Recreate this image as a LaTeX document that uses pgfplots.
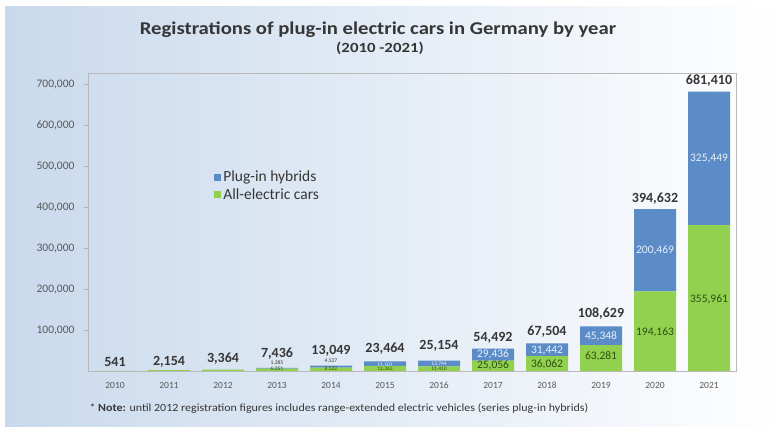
\documentclass[border=0pt]{standalone}
\usepackage{fontspec}
\setmainfont{Carlito}
\usepackage{pgfplots}
\usepackage{pgfplotstable}
\pgfplotsset{compat=1.18}
\definecolor{barblue}{HTML}{5B8CC8}
\definecolor{bargreen}{HTML}{92D050}
\definecolor{bgblue}{HTML}{C9D9EC}
\definecolor{txtgrey}{HTML}{363636}
\definecolor{tickgrey}{HTML}{595959}
\definecolor{dkgreen}{HTML}{2F5010}
\definecolor{lightlab}{HTML}{E8F0FA}

\pgfplotstableread{
x elec hyb
0 541 0
1 2154 0
2 3364 0
3 6051 1385
4 8522 4527
5 12363 11101
6 11410 13744
7 25056 29436
8 36062 31442
9 63281 45348
10 194163 200469
11 355961 325449
}\datatab

\pgfplotstableread{
x total dy lab
0 541 4 541
1 2154 3 2,154
2 3364 5 3,364
3 7436 8 7,436
4 13049 9 13,049
5 23464 7 23,464
6 25154 9 25,154
7 54492 5 54,492
8 67504 6 67,504
9 108629 7 108,629
10 394632 5 394,632
11 681410 5 681,410
}\totals

\pgfplotstableread{
x y lab
7 40500 29,436
8 50500 31,442
9 83700 45,348
10 295000 200,469
11 519000 325,449
}\hybbig

\pgfplotstableread{
x y lab
7 13000 25,056
8 16000 36,062
9 36600 63,281
10 95000 194,163
11 175000 355,961
}\elecbig

\pgfplotstableread{
x y lab
3 19500 1,385
4 24400 4,527
}\hybabove

\pgfplotstableread{
x y lab
5 15400 11,101
6 17000 13,744
}\hybsmall

\pgfplotstableread{
x y lab
3 4900 6,051
4 4900 8,522
5 4900 12,363
6 4900 11,410
}\elecsmall

\pgfplotsset{common/.style={at={(88pt,56pt)}, anchor=south west, scale only axis,
  width=648pt, height=298pt, xmin=-0.5, xmax=11.5, ymin=0, ymax=727000}}
\pgfplotsset{labplot/.style={only marks, mark=none, nodes near coords,
  point meta=explicit symbolic}}

\begin{document}
\begin{tikzpicture}
\useasboundingbox (0,0) rectangle (783pt,427pt);
\fill[white] (0,0) rectangle (783pt,427pt);
\shade[left color=bgblue, right color=white] (5pt,0) rectangle (783pt,420pt);

\node[font=\bfseries\fontsize{18}{21}\selectfont, text=txtgrey] at (378pt,397pt)
  {\scalebox{1.15}[1]{Registrations of plug-in electric cars in Germany by year}};
\node[font=\bfseries\fontsize{14}{16}\selectfont, text=txtgrey] at (380pt,379pt)
  {\scalebox{1.2}[1]{(2010 -2021)}};
\node[anchor=west, font=\fontsize{11}{13}\selectfont, text=txtgrey] at (86pt,19pt)
  {\scalebox{1.09}[1]{* \textbf{Note:} until 2012 registration figures includes range-extended electric vehicles (series plug-in hybrids)}};

\begin{axis}[common, ybar stacked, bar width=42pt,
  axis line style={draw=gray!55},
  ytick={100000,200000,...,700000},
  ytick pos=left,
  scaled y ticks=false,
  /pgf/number format/.cd, fixed, 1000 sep={,}, assume math mode=true, /pgfplots/.cd,
  yticklabel style={font=\fontsize{11.5}{13}\selectfont, text=tickgrey, xshift=-6pt},
  xtick={0,...,11},
  xticklabels={2010,2011,2012,2013,2014,2015,2016,2017,2018,2019,2020,2021},
  xticklabel style={font=\fontsize{9.5}{11}\selectfont, text=tickgrey, yshift=-3pt,
    text height=6.5pt, text depth=0pt},
  x tick style={draw=none},
  y tick style={draw=gray!60},
  tick align=outside, major tick length=4pt,
  reverse legend,
  legend style={at={(rel axis cs:0.19,0.685)}, anchor=north west, draw=none, fill=none,
    font=\fontsize{15.5}{17}\selectfont, text=txtgrey, row sep=1pt},
  legend cell align=left,
  legend image code/.code={\fill[#1] (0pt,-3.5pt) rectangle (7pt,3.5pt);},
]
\addplot[fill=bargreen, draw=none] table[x=x, y=elec]{\datatab};
\addplot[fill=barblue, draw=none] table[x=x, y=hyb]{\datatab};
\legend{All-electric cars, Plug-in hybrids}
\end{axis}

\begin{axis}[common, hide axis, clip=false]
\addplot[labplot, visualization depends on={\thisrow{dy} \as \dy},
  nodes near coords style={anchor=south, inner sep=0pt, yshift=\dy pt,
    font=\bfseries\fontsize{14}{16}\selectfont, text=txtgrey}]
  table[x=x, y=total, meta=lab]{\totals};
\addplot[labplot, nodes near coords style={anchor=center, inner sep=0pt,
    font=\fontsize{11.5}{13}\selectfont, text=lightlab}]
  table[x=x, y=y, meta=lab]{\hybbig};
\addplot[labplot, nodes near coords style={anchor=center, inner sep=0pt,
    font=\fontsize{11.5}{13}\selectfont, text=dkgreen}]
  table[x=x, y=y, meta=lab]{\elecbig};
\addplot[labplot, nodes near coords style={anchor=center, inner sep=0pt,
    font=\fontsize{5.5}{6}\selectfont, text=txtgrey}]
  table[x=x, y=y, meta=lab]{\hybabove};
\addplot[labplot, nodes near coords style={anchor=center, inner sep=0pt,
    font=\fontsize{5.5}{6}\selectfont, text=lightlab}]
  table[x=x, y=y, meta=lab]{\hybsmall};
\addplot[labplot, nodes near coords style={anchor=center, inner sep=0pt,
    font=\fontsize{5.5}{6}\selectfont, text=dkgreen}]
  table[x=x, y=y, meta=lab]{\elecsmall};
\end{axis}
\end{tikzpicture}
\end{document}
